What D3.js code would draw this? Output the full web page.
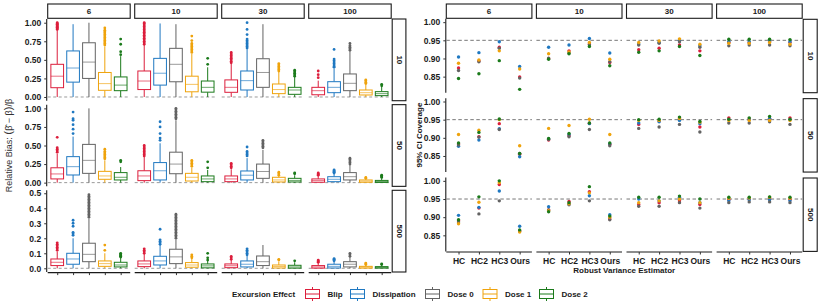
<!DOCTYPE html>
<html>
<head>
<meta charset="utf-8">
<script src="https://cdn.jsdelivr.net/npm/d3@7"></script>
<style>
body { margin: 0; background: #fff; }
svg text { font-family: "Liberation Sans", Arial, sans-serif; font-weight: bold; fill: #1a1a1a; }
</style>
</head>
<body>
<svg id="chart" width="822" height="308"></svg>
<script>
// facets
var sizes = ["10", "50", "500"];
var horizons = ["6", "10", "30", "100"];
var effects = ["Blip", "Dissipation", "Dose 0", "Dose 1", "Dose 2"];
var effectColors = ["#DC1E3C", "#1F78C1", "#636363", "#EFA30C", "#1B7A1B"];
var estimators = ["HC", "HC2", "HC3", "Ours"];

// relative bias boxes: per horizon, per effect [lower, q1, median, q3, upper]
var biasN10 = [
  [[0,0.125,0.28,0.44,0.9],[0,0.2,0.39,0.62,0.98],[0,0.25,0.47,0.73,1.0],[0,0.09,0.18,0.33,0.68],[0,0.085,0.16,0.27,0.55]],
  [[0,0.10,0.215,0.35,0.7],[0,0.16,0.32,0.52,0.99],[0,0.205,0.44,0.655,0.98],[0,0.07,0.17,0.28,0.58],[0,0.065,0.13,0.215,0.4]],
  [[0,0.063,0.13,0.23,0.45],[0,0.094,0.22,0.35,0.65],[0,0.13,0.33,0.515,0.98],[0,0.045,0.1,0.175,0.34],[0,0.036,0.094,0.13,0.27]],
  [[0,0.03,0.085,0.13,0.22],[0,0.058,0.13,0.206,0.38],[0,0.085,0.184,0.31,0.62],[0,0.027,0.058,0.094,0.17],[0,0.018,0.045,0.072,0.14]]
];
var outN10 = [
  [[0.91,0.92,0.93,0.94,0.95,0.96,0.97,0.98,0.99,1.0],[],[],[0.70,0.72,0.74,0.76,0.78,0.80,0.82,0.84,0.86,0.88,0.90,0.93],[0.57,0.61,0.71,0.78]],
  [[0.71,0.73,0.75,0.77,0.79,0.81,0.83,0.85,0.87,0.89,0.91,0.93,0.95,0.97,0.99,1.0],[],[],[0.6,0.62,0.64,0.66,0.68,0.70,0.72,0.76,0.82],[0.44,0.52]],
  [[0.46,0.48,0.5,0.52,0.54,0.56,0.58,0.6],[0.66,0.68,0.70,0.72,0.74,0.76,0.78,0.84,0.91,1.0],[],[0.35,0.37,0.39,0.41,0.43,0.45],[0.28,0.3,0.32,0.34,0.36]],
  [[0.26,0.30,0.35],[0.40,0.41,0.43,0.45,0.47,0.49,0.51,0.64],[0.63,0.65,0.67,0.69,0.72],[0.18,0.2,0.22,0.23],[0.15,0.17]]
];
var biasN50 = [
  [[0,0.05,0.117,0.2,0.39],[0,0.103,0.215,0.35,0.62],[0,0.125,0.3,0.515,1.0],[0,0.045,0.09,0.152,0.3],[0,0.036,0.072,0.135,0.21]],
  [[0,0.027,0.09,0.16,0.35],[0,0.036,0.16,0.27,0.53],[0,0.12,0.25,0.41,0.84],[0,0.022,0.072,0.125,0.2],[0,0.013,0.05,0.09,0.17]],
  [[0,0.013,0.05,0.09,0.18],[0,0.036,0.1,0.157,0.33],[0,0.058,0.15,0.25,0.44],[0,0.009,0.036,0.072,0.09],[0,0.009,0.03,0.058,0.1]],
  [[0,0.005,0.027,0.05,0.09],[0,0.013,0.045,0.08,0.12],[0,0.036,0.08,0.135,0.24],[0,0.005,0.02,0.036,0.055],[0,0.003,0.015,0.03,0.06]]
];
var outN50 = [
  [[0.41,0.43,0.45,0.47,0.61],[0.66,0.72,0.78,0.84,0.86,0.95],[],[0.32,0.34,0.36,0.38,0.40,0.42,0.45],[0.28,0.30]],
  [[0.36,0.38,0.40,0.42,0.44,0.46,0.48,0.5],[0.57,0.6,0.66,0.75,0.82],[0.86,0.88,0.9,0.92,0.94,0.96,0.98,1.0],[0.22,0.24,0.26,0.28,0.3],[0.2,0.28]],
  [[0.2,0.22,0.24,0.26],[0.36,0.38,0.4,0.42,0.48],[0.47,0.49,0.51,0.53,0.55,0.57],[0.1,0.12,0.14],[0.12,0.13]],
  [[0.1,0.11,0.12,0.13],[0.13,0.14,0.15,0.16,0.17],[0.25,0.27,0.29,0.31,0.33],[0.06,0.07],[0.07,0.08,0.09,0.1]]
];
var biasN500 = [
  [[0,0.018,0.04,0.062,0.11],[0,0.027,0.062,0.1,0.2],[0,0.044,0.093,0.167,0.33],[0,0.013,0.031,0.049,0.1],[0,0.009,0.022,0.04,0.07]],
  [[0,0.011,0.029,0.049,0.095],[0,0.022,0.049,0.08,0.155],[0,0.031,0.076,0.127,0.19],[0,0.007,0.022,0.038,0.065],[0,0.003,0.016,0.029,0.05]],
  [[0,0.004,0.017,0.029,0.055],[0,0.009,0.027,0.049,0.085],[0,0.018,0.044,0.082,0.155],[0,0.002,0.012,0.022,0.045],[0,0.001,0.009,0.02,0.04]],
  [[0,0.001,0.009,0.018,0.035],[0,0.002,0.013,0.027,0.045],[0,0.009,0.027,0.044,0.075],[0,0.001,0.007,0.013,0.022],[0,0.001,0.006,0.011,0.02]]
];
var outN500 = [
  [[0.12,0.13,0.14,0.15,0.16,0.17],[0.22,0.23,0.24,0.28,0.3,0.32],[0.34,0.35,0.36,0.37,0.38,0.39,0.40,0.41,0.42,0.43,0.44,0.45,0.46,0.47,0.48,0.49],[0.12,0.155],[0.075,0.08,0.085,0.09,0.095,0.1]],
  [[0.1,0.11,0.12,0.13],[0.16,0.17,0.18,0.19,0.26],[0.2,0.21,0.22,0.23,0.24,0.25,0.26,0.27,0.28,0.29,0.30,0.31,0.32,0.33,0.34,0.35,0.36],[0.07,0.08,0.09],[0.055,0.07,0.1]],
  [[0.06,0.07,0.08],[0.09,0.1,0.11,0.12,0.13],[],[0.055,0.06],[0.05]],
  [[0.04,0.045,0.05,0.055],[0.05,0.055,0.06,0.065],[0.08,0.09,0.1],[0.025,0.03,0.035],[0.025,0.03]]
];
var biasMax = [1.0, 1.0, 0.495];
var biasTicks = [[0, 0.25, 0.5, 0.75, 1], [0, 0.25, 0.5, 0.75, 1], [0, 0.1, 0.2, 0.3, 0.4, 0.5]];

// coverage: per horizon, per estimator, values in effect order
var covN10 = [
  [[0.874,0.904,0.867,0.887,0.845],[0.893,0.916,0.891,0.896,0.858],[0.931,0.946,0.928,0.921,0.894],[0.849,0.878,0.846,0.871,0.815]],
  [[0.90,0.931,0.901,0.913,0.898],[0.921,0.937,0.915,0.918,0.913],[0.94,0.955,0.938,0.944,0.933],[0.889,0.915,0.891,0.898,0.88]],
  [[0.924,0.94,0.937,0.944,0.917],[0.928,0.945,0.942,0.948,0.921],[0.937,0.95,0.946,0.954,0.933],[0.921,0.935,0.931,0.939,0.908]],
  [[0.945,0.947,0.935,0.942,0.953],[0.944,0.946,0.937,0.942,0.953],[0.946,0.948,0.937,0.944,0.953],[0.944,0.946,0.935,0.939,0.952]]
];
var covN50 = [
  [[0.883,0.877,0.88,0.909,0.886],[0.903,0.894,0.902,0.921,0.915],[0.939,0.925,0.923,0.95,0.952],[0.855,0.848,0.857,0.878,0.857]],
  [[0.894,0.897,0.896,0.926,0.898],[0.906,0.909,0.903,0.934,0.912],[0.94,0.939,0.923,0.951,0.941],[0.882,0.884,0.878,0.909,0.886]],
  [[0.937,0.941,0.926,0.948,0.95],[0.946,0.944,0.93,0.948,0.951],[0.955,0.948,0.937,0.953,0.957],[0.93,0.939,0.916,0.943,0.945]],
  [[0.955,0.95,0.941,0.948,0.951],[0.952,0.95,0.941,0.948,0.955],[0.953,0.953,0.944,0.948,0.959],[0.955,0.95,0.937,0.948,0.951]]
];
var covN500 = [
  [[0.89,0.905,0.887,0.882,0.893],[0.925,0.927,0.909,0.941,0.956],[0.99,0.972,0.945,0.995,1.0],[0.862,0.875,0.862,0.859,0.865]],
  [[0.92,0.929,0.92,0.918,0.915],[0.943,0.936,0.934,0.937,0.94],[0.97,0.959,0.945,0.967,0.984],[0.895,0.907,0.893,0.9,0.903]],
  [[0.935,0.95,0.93,0.94,0.955],[0.94,0.945,0.93,0.945,0.955],[0.945,0.955,0.94,0.95,0.958],[0.935,0.94,0.925,0.94,0.95]],
  [[0.948,0.945,0.94,0.952,0.955],[0.95,0.948,0.942,0.953,0.955],[0.95,0.948,0.942,0.955,0.956],[0.948,0.945,0.94,0.952,0.955]]
];
var covTicks = [0.85, 0.90, 0.95, 1.00];

var biasRows = [biasN10, biasN50, biasN500];
var outRows = [outN10, outN50, outN500];
var covRows = [covN10, covN50, covN500];

var svg = d3.select("#chart");
var color = d3.scaleOrdinal().domain(effects).range(effectColors);

function strip(g, x, y, w, h, label, vertical) {
  g.append("rect").attr("x", x).attr("y", y).attr("width", w).attr("height", h)
    .attr("fill", "#fff").attr("stroke", "#1a1a1a").attr("stroke-width", 1.1);
  var t = g.append("text").attr("font-size", 8).attr("text-anchor", "middle")
    .attr("dominant-baseline", "central").text(label);
  if (vertical) t.attr("transform", "translate(" + (x + w / 2) + "," + (y + h / 2) + ") rotate(90)");
  else t.attr("x", x + w / 2).attr("y", y + h / 2);
}

// ---------- left: relative bias ----------
var L = { x0: 47.7, colStep: 87, w: 82.5, y0: 19, rowStep: 85.65, h: 81.7 };
var left = svg.append("g");

horizons.forEach(function(hz, c) {
  strip(left, L.x0 + c * L.colStep, 4, L.w, 14.3, hz, false);
});
sizes.forEach(function(n, r) {
  strip(left, L.x0 + 3 * L.colStep + L.w + 1, L.y0 + r * L.rowStep, 13.7, L.h, n, true);
});

sizes.forEach(function(n, r) {
  var top = L.y0 + r * L.rowStep;
  var m = biasMax[r];
  var y = d3.scaleLinear().domain([-0.05 * m, 1.05 * m]).range([top + L.h, top]);

  var yAxis = left.append("g").attr("transform", "translate(" + (L.x0 - 1) + ",0)")
    .call(d3.axisLeft(y).tickValues(biasTicks[r]).tickSize(2.5)
      .tickFormat(d3.format(r < 2 ? ".2f" : ".1f")));
  yAxis.select(".domain").attr("d", "M0," + top + "V" + (top + L.h)).attr("stroke", "#1a1a1a").attr("stroke-width", 1.1);
  yAxis.selectAll(".tick line").attr("stroke", "#333");
  yAxis.selectAll(".tick text").attr("font-size", 8.5).attr("fill", "#1a1a1a");

  horizons.forEach(function(hz, c) {
    var x0 = L.x0 + c * L.colStep;
    var x = d3.scalePoint().domain(effects).range([x0, x0 + L.w]).padding(0.6);
    var bw = x.step() * 0.8;
    var g = left.append("g");

    g.append("line").attr("x1", x0).attr("x2", x0 + L.w).attr("y1", y(0)).attr("y2", y(0))
      .attr("stroke", "#9a9a9a").attr("stroke-width", 1).attr("stroke-dasharray", "3,2.5");

    var boxes = biasRows[r][c];
    var outs = outRows[r][c];
    effects.forEach(function(e, k) {
      var s = boxes[k], cx = x(e), col = color(e);
      g.append("line").attr("x1", cx).attr("x2", cx).attr("y1", y(s[0])).attr("y2", y(s[1]))
        .attr("stroke", col).attr("stroke-width", 1);
      g.append("line").attr("x1", cx).attr("x2", cx).attr("y1", y(s[3])).attr("y2", y(s[4]))
        .attr("stroke", col).attr("stroke-width", 1);
      g.append("rect").attr("x", cx - bw / 2).attr("y", y(s[3])).attr("width", bw)
        .attr("height", Math.max(0.5, y(s[1]) - y(s[3])))
        .attr("fill", "#fff").attr("stroke", col).attr("stroke-width", 1);
      g.append("line").attr("x1", cx - bw / 2).attr("x2", cx + bw / 2).attr("y1", y(s[2])).attr("y2", y(s[2]))
        .attr("stroke", col).attr("stroke-width", 1).attr("stroke-opacity", 0.65);
      g.selectAll(null).data(outs[k]).enter().append("circle")
        .attr("cx", cx).attr("cy", function(d) { return y(d); }).attr("r", 1.4).attr("fill", col);
    });

    if (r === 2) {
      var xa = left.append("g").attr("transform", "translate(0," + (top + L.h + 0.6) + ")")
        .call(d3.axisBottom(x).tickSize(2.5).tickFormat(""));
      xa.select(".domain").attr("d", "M" + x0 + ",0H" + (x0 + L.w)).attr("stroke", "#1a1a1a").attr("stroke-width", 1.1);
      xa.selectAll(".tick line").attr("stroke", "#333");
    }
  });
});

var biasTitle = left.append("text").attr("font-size", 9).style("font-weight", "normal")
  .style("fill", "#333").attr("text-anchor", "middle")
  .attr("transform", "translate(12," + (L.y0 + (3 * L.rowStep - 4) / 2) + ") rotate(-90)");
biasTitle.append("tspan").text("Relative Bias: ");
biasTitle.append("tspan").attr("font-size", 11.5).text("(");
biasTitle.append("tspan").text("\u03B2\u0302 \u2212 \u03B2");
biasTitle.append("tspan").attr("font-size", 11.5).text(")");
biasTitle.append("tspan").text("/\u03B2");

// ---------- right: coverage ----------
var R = { x0: 446.3, colStep: 90.1, w: 85.6, y0: 18.8, rowStep: 79.35, h: 73.9 };
var right = svg.append("g");
var yc = d3.scaleLinear().domain([0.80575, 1.00925]);

horizons.forEach(function(hz, c) {
  strip(right, R.x0 + c * R.colStep, 4, R.w, 14.3, hz, false);
});
sizes.forEach(function(n, r) {
  strip(right, R.x0 + 3 * R.colStep + R.w + 1, R.y0 + r * R.rowStep + 0.5, 14, R.h - 0.5, n, true);
});

sizes.forEach(function(n, r) {
  var top = R.y0 + r * R.rowStep;
  var y = yc.copy().range([top + R.h, top]);
  var yAxis = right.append("g").attr("transform", "translate(" + (R.x0 - 0.5) + ",0)")
    .call(d3.axisLeft(y).tickValues(covTicks).tickSize(2.5).tickFormat(d3.format(".2f")));
  yAxis.select(".domain").attr("d", "M0," + top + "V" + (top + R.h)).attr("stroke", "#1a1a1a").attr("stroke-width", 1.1);
  yAxis.selectAll(".tick line").attr("stroke", "#333");
  yAxis.selectAll(".tick text").attr("font-size", 8.5).attr("fill", "#1a1a1a");

  horizons.forEach(function(hz, c) {
    var x0 = R.x0 + c * R.colStep;
    var x = d3.scalePoint().domain(estimators).range([x0, x0 + R.w]).padding(0.6);
    var g = right.append("g");
    g.append("line").attr("x1", x0).attr("x2", x0 + R.w).attr("y1", y(0.95)).attr("y2", y(0.95))
      .attr("stroke", "#777").attr("stroke-width", 1).attr("stroke-dasharray", "3.5,2.5");
    var pts = [];
    estimators.forEach(function(est, j) {
      effects.forEach(function(e, k) {
        pts.push({ est: est, eff: e, v: covRows[r][c][j][k] });
      });
    });
    g.selectAll(null).data(pts).enter().append("circle")
      .attr("cx", function(d) { return x(d.est); })
      .attr("cy", function(d) { return y(d.v); })
      .attr("r", 1.7)
      .attr("fill", function(d) { return color(d.eff); });

    if (r === 2) {
      var xa = right.append("g").attr("transform", "translate(0," + (top + R.h + 0.6) + ")")
        .call(d3.axisBottom(x).tickSize(2.5));
      xa.select(".domain").attr("d", "M" + x0 + ",0H" + (x0 + R.w)).attr("stroke", "#1a1a1a").attr("stroke-width", 1.1);
      xa.selectAll(".tick line").attr("stroke", "#333");
      xa.selectAll(".tick text").attr("font-size", 8.5).attr("fill", "#1a1a1a").attr("dy", "0.75em");
    }
  });
});

right.append("text").attr("font-size", 8).attr("text-anchor", "middle")
  .attr("x", R.x0 + (3 * R.colStep + R.w) / 2).attr("y", 273).text("Robust Variance Estimator");
right.append("text").attr("font-size", 8).attr("text-anchor", "middle")
  .attr("transform", "translate(422," + (R.y0 + (3 * R.rowStep - 5.5) / 2) + ") rotate(-90)")
  .text("95% CI Coverage");

// ---------- legend ----------
var legend = svg.append("g").attr("transform", "translate(0,294)");
legend.append("text").attr("x", 232).attr("dominant-baseline", "central").attr("font-size", 8).text("Excursion Effect");
var keyX = [304.5, 349.5, 424.5, 482, 538.5];
effects.forEach(function(e, k) {
  var g = legend.append("g").attr("transform", "translate(" + keyX[k] + ",0)");
  var col = color(e);
  g.append("line").attr("x1", 8).attr("x2", 8).attr("y1", -7).attr("y2", 7).attr("stroke", col).attr("stroke-width", 1);
  g.append("rect").attr("x", 1).attr("y", -4.5).attr("width", 14).attr("height", 9)
    .attr("fill", "#fff").attr("stroke", col).attr("stroke-width", 1);
  g.append("line").attr("x1", 1).attr("x2", 15).attr("y1", 0).attr("y2", 0).attr("stroke", col).attr("stroke-width", 1);
  g.append("text").attr("x", 23).attr("dominant-baseline", "central").attr("font-size", 8).text(e);
});
</script>
</body>
</html>
